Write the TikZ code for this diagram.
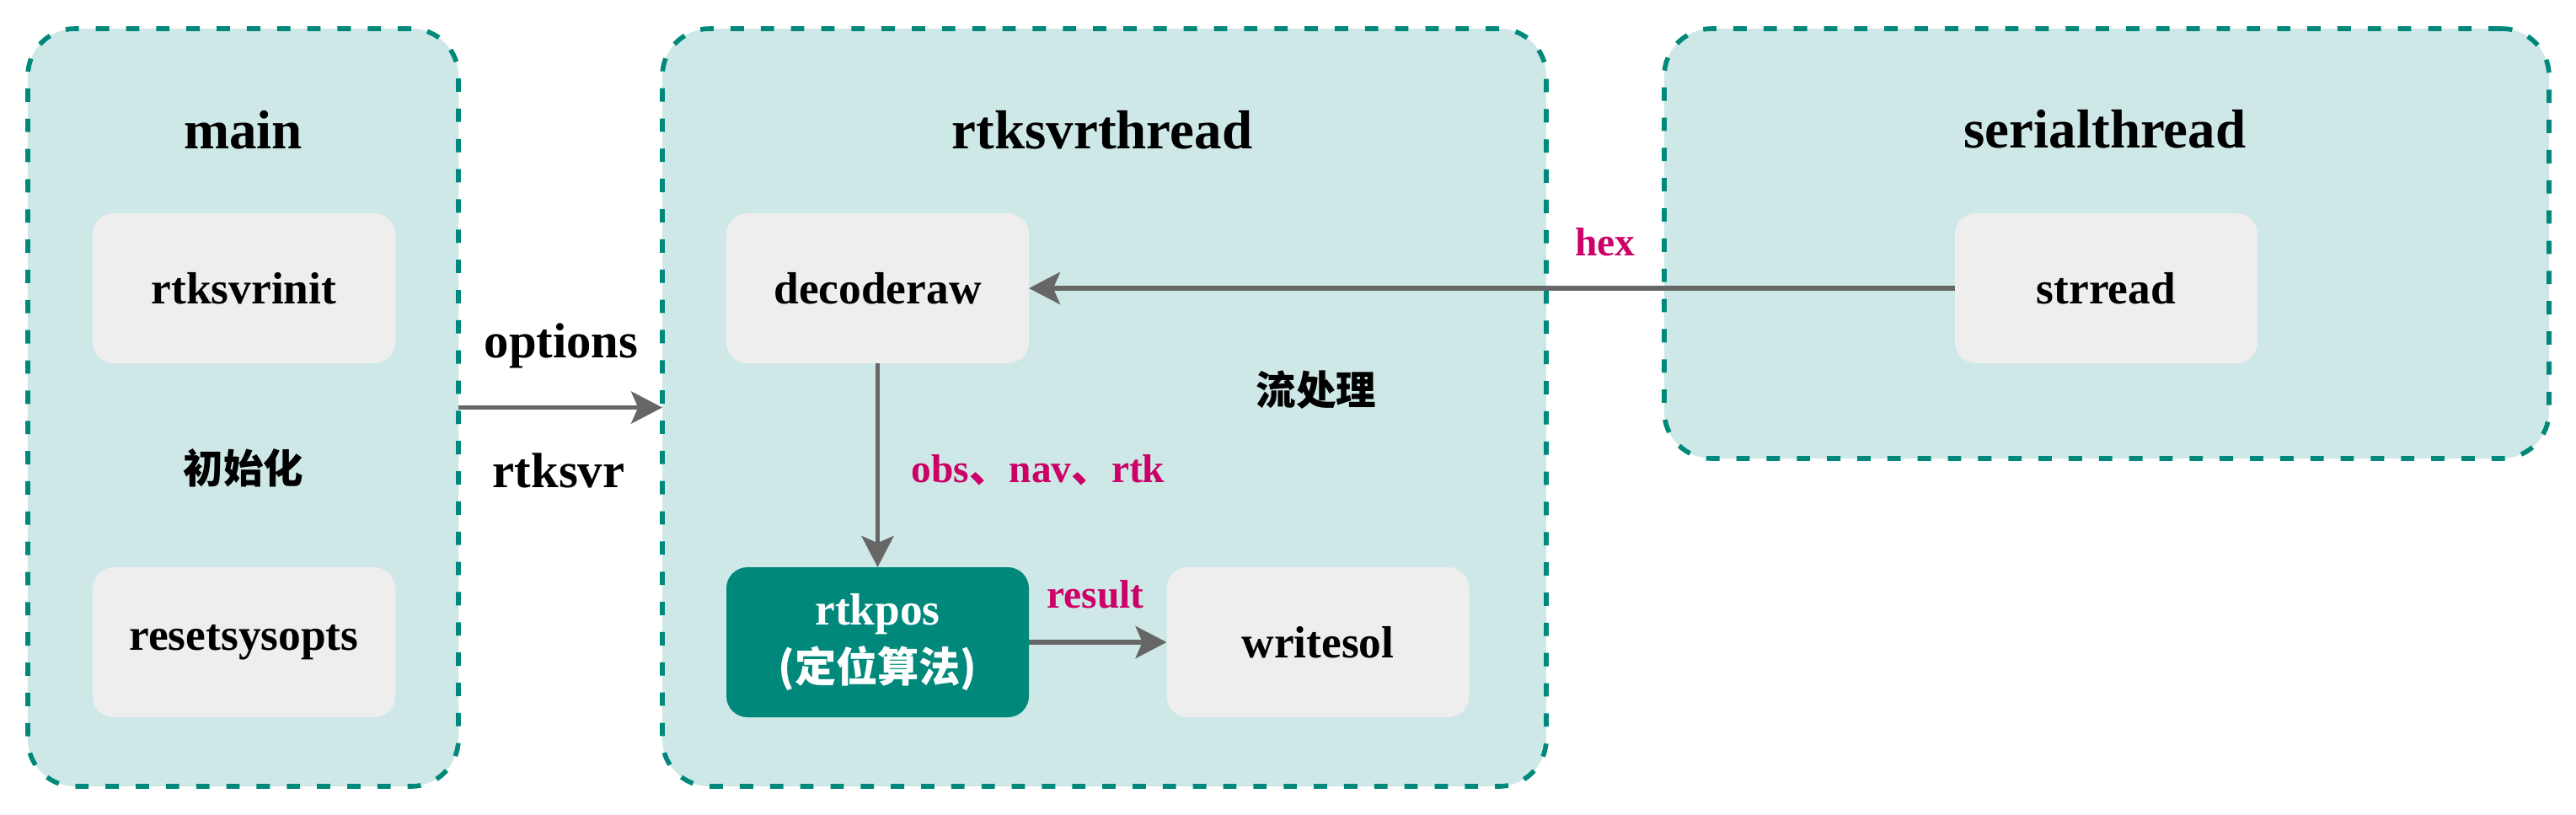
\documentclass[tikz,border=0pt]{standalone}
\usepackage{fontspec}
\setmainfont{Liberation Serif}
\newfontfamily\cjk{Noto Sans CJK SC}
\usetikzlibrary{arrows.meta}

\definecolor{threadteal}{RGB}{0,137,123}
\definecolor{threadfill}{RGB}{205,232,230}
\definecolor{funcgray}{RGB}{238,238,238}
\definecolor{flowgray}{RGB}{102,102,102}
\definecolor{datared}{RGB}{204,0,102}

\begin{document}
\begin{tikzpicture}[
    thread/.style={draw=threadteal, fill=threadfill, line width=1.6pt,
      dash pattern=on 4.5pt off 5.7pt, rounded corners=0.56cm,
      inner sep=0pt, outer sep=0pt},
    func/.style={fill=funcgray, rounded corners=0.25cm, minimum width=3.59cm,
      minimum height=1.78cm, inner sep=0pt, outer sep=0pt, align=center,
      font=\bfseries\fontsize{15.2}{18.5}\selectfont},
    title/.style={font=\bfseries\fontsize{18.5}{22}\selectfont},
    note/.style={font=\bfseries\fontsize{16.7}{20}\selectfont},
    cjknote/.style={font=\cjk\bfseries\fontsize{13.5}{16}\selectfont},
    data/.style={text=datared, font=\bfseries\fontsize{13.5}{16}\selectfont},
    flow/.style={draw=flowgray, line width=1.6pt,
      -{Stealth[length=10.5pt, width=10.8pt, inset=2.3pt]}}
  ]

   \useasboundingbox (0,0) rectangle (30.57,-9.66);

   % threads
   \node[thread, minimum width=5.11cm, minimum height=8.99cm] (main) at (2.885,-4.835) {};
   \node[thread, minimum width=10.49cm, minimum height=8.99cm] (svrthread) at (13.105,-4.835) {};
   \node[thread, minimum width=10.50cm, minimum height=5.10cm] (serthread) at (25.00,-2.89) {};

   \node[title] (maintitle) at (2.885,-1.54) {main};
   \node[title] (svrtitle) at (13.08,-1.54) {rtksvrthread};
   \node[title] (sertitle) at (24.98,-1.53) {serialthread};

   % functions
   \node[func] (svrinit) at (2.895,-3.42) {rtksvrinit};
   \node[func] (resetopts) at (2.895,-7.62) {resetsysopts};
   \node[func] (decoderaw) at (10.415,-3.42) {decoderaw};
   \node[func, fill=threadteal, text=white] (rtkpos) at (10.415,-7.62)
      {rtkpos\\[1pt]{\cjk\fontsize{14}{17}\selectfont (定位算法)}};
   \node[func] (writesol) at (15.64,-7.62) {writesol};
   \node[func] (strread) at (24.995,-3.42) {strread};

   \node[cjknote] (init) at (2.89,-5.55) {初始化};
   \node[cjknote] (stream) at (15.62,-4.63) {流处理};

   % data flow
   \draw[flow] (main.east) -- (svrthread.west);
   \draw[flow] (strread.west) -- (decoderaw.east);
   \draw[flow] (decoderaw.south) -- (rtkpos.north);
   \draw[flow] (rtkpos.east) -- (writesol.west);

   \node[note] (optlbl) at (6.66,-4.10) {options};
   \node[note] (svrlbl) at (6.63,-5.58) {rtksvr};
   \node[data] (hexlbl) at (19.05,-2.87) {hex};
   \node[data] (obslbl) at (12.32,-5.58) {obs{\cjk 、}nav{\cjk 、}rtk};
   \node[data] (reslbl) at (13.00,-7.05) {result};

\end{tikzpicture}
\end{document}
